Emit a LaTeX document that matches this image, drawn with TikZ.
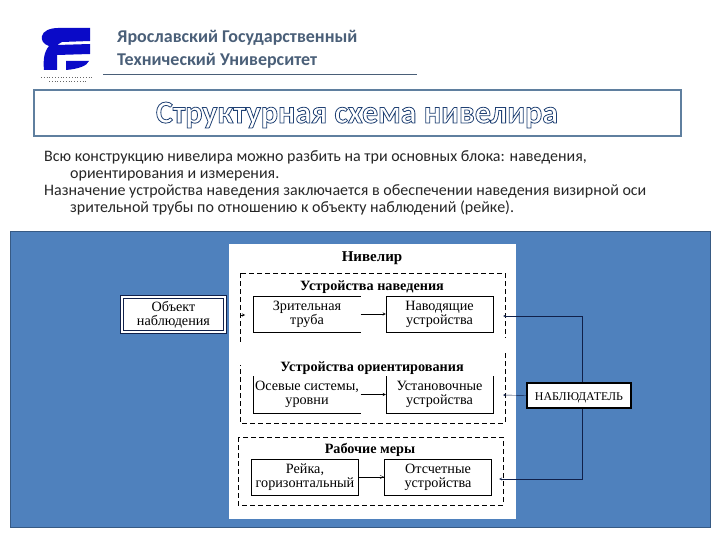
\documentclass[tikz,border=0pt]{standalone}
\usepackage{fontspec}
\setmainfont{Carlito}
\newfontfamily\schemefont{Liberation Serif}
\usetikzlibrary{arrows,positioning,calc}

\definecolor{headcolor}{HTML}{4A5F78}
\definecolor{framecolor}{HTML}{5F7F9F}
\definecolor{panelcolor}{HTML}{4F81BD}
\definecolor{logocolor}{HTML}{0A0AC8}
\definecolor{linecolor}{HTML}{10204A}

\tikzset{
  inner box/.style={font=\schemefont\fontsize{14.2}{14}\selectfont, align=center, inner sep=0pt, minimum width=107, minimum height=36, execute at begin node={\rule{0pt}{13pt}}},
  outer box/.style={inner box, fill=white, minimum width=100},
  block title/.style={font=\schemefont\bfseries\fontsize{14.2}{16}\selectfont, inner sep=1pt},
  block line/.style={draw=black, dashed, dash pattern=on 5pt off 3pt, thick},
  body text/.style={anchor=base west, inner sep=0pt, font=\fontsize{16}{17}\selectfont, text=black!85},
  head text/.style={anchor=base west, inner sep=0pt, text=headcolor, font=\bfseries\fontsize{18}{20}\selectfont}
}

\begin{document}
\begin{tikzpicture}[x=1pt,y=-1pt]
\useasboundingbox (0,0) rectangle (720,540);

% Logo
\fill[logocolor] (58,28) -- (90,28) -- (90,41) -- (62,42) -- (57,45) -- (90,44) -- (90,54) -- (57,55) -- (57,70) -- (44,70)
  .. controls (43,60) and (44,52) .. (49,46) .. controls (43,44) and (41,40) .. (42,36) .. controls (43,31) and (50,28) .. (58,28) -- cycle;
\fill[logocolor] (66,61) -- (89,61) .. controls (87,66) and (78,69) .. (66,70) -- cycle;
\draw[black!60, dotted, thick] (41,77) -- (93,77);
\draw[black!60, dotted, thick] (49,81) -- (88,81);

% Header
\node[head text] (univa) at (117,43) {Ярославский Государственный};
\node[head text] (univb) at (117,66) {Технический Университет};
\draw[headcolor] (103,74) -- (417,74);

% Title
\draw[framecolor, line width=2pt] (34,90) rectangle (681,136);
\node[font=\bfseries\fontsize{32}{36}\selectfont, text=white] (title) at (357,115)
  {\special{pdf:code q 1 Tr 0.8 w 0.12 0.25 0.45 RG}Структурная схема нивелира\special{pdf:code Q}};

% Text
\node[body text] (texta) at (44,162) {Всю конструкцию нивелира можно разбить на три основных блока: наведения,};
\node[body text] (textb) at (70,179) {ориентирования и измерения.};
\node[body text] (textc) at (44,196) {Назначение устройства наведения заключается в обеспечении наведения визирной оси};
\node[body text] (textd) at (70,213) {зрительной трубы по отношению к объекту наблюдений (рейке).};

% Panel
\draw[fill=panelcolor, draw=panelcolor!70!black] (10,231) rectangle (710,527);
\fill[white] (229,244) rectangle (516,519);

% Dashed blocks
\draw[block line] (240,273) rectangle (505,423);
\draw[block line] (238,437) rectangle (503,505);
\fill[white] (238,342) rectangle (243,365);
\fill[white] (503,338) rectangle (507,352);
\node[block title, font=\schemefont\bfseries\fontsize{15}{16}\selectfont] (nivelir) at (372,258) {Нивелир};

% Boxes
\node[inner box] (tube) at (307,314) {Зрительная\\труба};
\node[inner box, draw] (guide) at (439.5,314) {Наводящие\\устройства};
\node[inner box] (axes) at (307,394.5) {Осевые системы,\\уровни};
\node[inner box] (setup) at (439.5,394.5) {Установочные\\устройства};
\node[inner box, draw] (staff) at (305,477) {Рейка,\\горизонтальный};
\node[inner box, draw] (reading) at (438,477) {Отсчетные\\устройства};
\draw (tube.north east) -- (tube.north west) -- (tube.south west) -- (tube.south east);
\draw (axes.north west) -- (axes.south west) -- (axes.south east);
\draw (setup.north west) -- (setup.south west) -- (setup.south east) -- (setup.north east);

\node[block title, fill=white] (guidetitle) at (372,287) {Устройства наведения};
\node[block title, fill=white] (settitle) at (372,368) {Устройства ориентирования};
\node[block title] (meastitle) at (370,450) {Рабочие меры};

% Outside boxes
\node[outer box, draw=linecolor, double=white, double distance=1.5pt, thick, minimum width=103, minimum height=35] (target) at (173.5,314.5) {Объект\\наблюдения};
\node[outer box, draw=black, line width=2pt, minimum width=104, minimum height=25, font=\schemefont\fontsize{11.9}{12}\selectfont] (observer) at (579,395.5) {НАБЛЮДАТЕЛЬ};

% Arrows
\coordinate (targetfrom) at (241,315);
\coordinate (targetto) at (245,315);
\coordinate (guideto) at (503,316);
\coordinate (setupto) at (503,395);
\coordinate (readingto) at (499,479);
\draw[->,>=stealth] (targetfrom) -- (targetto);
\draw[->,>=stealth] (tube.east) -- (guide.west);
\draw[->,>=stealth] (axes.east) -- (setup.west);
\draw[->,>=angle 45] (staff.east) -- (reading.west);
\draw[->,>=stealth,linecolor] ([xshift=3]observer.north) |- (guideto);
\draw[->,>=stealth,linecolor] (observer.west) -- (setupto);
\draw[->,>=stealth,linecolor] ([xshift=3]observer.south) |- (readingto);
\end{tikzpicture}
\end{document}
